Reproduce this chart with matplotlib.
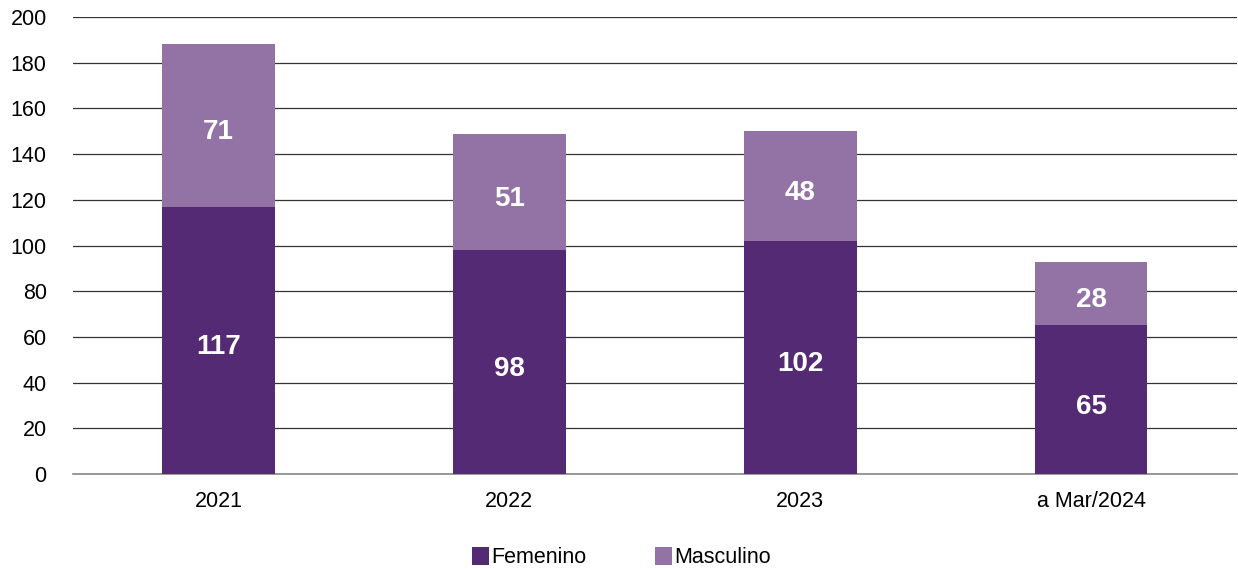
import numpy as np
import matplotlib.pyplot as plt

plt.rcParams['font.family'] = ['Liberation Sans', 'DejaVu Sans']

periodos = ["2021", "2022", "2023", "a Mar/2024"]
femenino = [117, 98, 102, 65]
masculino = [71, 51, 48, 28]

color_fem = "#532A73"
color_masc = "#9373A5"

fig = plt.figure(figsize=(12.38, 5.69), dpi=100)
ax = fig.add_axes([0.059, 0.167, 0.940, 0.803])

x = np.arange(len(periodos))
ancho = 0.386
b1 = ax.bar(x, femenino, ancho, color=color_fem, label="Femenino", zorder=3)
b2 = ax.bar(x, masculino, ancho, bottom=femenino, color=color_masc, label="Masculino", zorder=3)

# etiquetas de valor en blanco dentro de cada segmento
for barras in (b1, b2):
    for r in barras:
        h = r.get_height()
        ax.text(r.get_x() + r.get_width() / 2, r.get_y() + h / 2 - 3, f"{h:.0f}",
                ha="center", va="center", color="white", fontsize=20,
                fontweight="bold", zorder=4)

ax.set_xlim(-0.5, len(periodos) - 0.5)
ax.set_ylim(0, 200)
ax.set_yticks(np.arange(0, 201, 20))
ax.set_xticks(x)
ax.set_xticklabels(periodos)
ax.tick_params(axis="both", length=0, labelsize=15.5, colors="black")
ax.tick_params(axis="y", pad=19)
ax.tick_params(axis="x", pad=12)

ax.grid(axis="y", color="#333333", linewidth=0.9, zorder=0)
for s in ("top", "right", "left"):
    ax.spines[s].set_visible(False)
ax.spines["bottom"].set_color("#888888")
ax.spines["bottom"].set_linewidth(1.2)

fig.legend(loc="lower center", bbox_to_anchor=(0.502, -0.033), ncol=2, frameon=False,
           fontsize=15.5, handlelength=0.8, handleheight=0.9, handletextpad=0.1,
           columnspacing=3.2)

fig.savefig("out.png", dpi=100)
